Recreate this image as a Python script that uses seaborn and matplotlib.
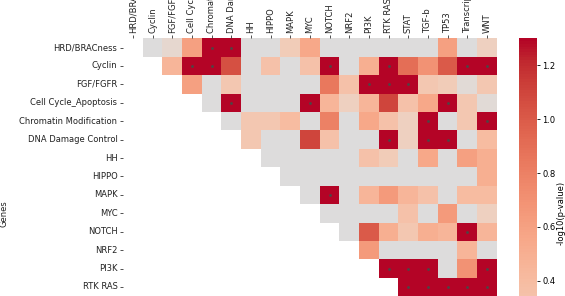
import numpy as np
import pandas as pd
import matplotlib
matplotlib.use("Agg")
import matplotlib.pyplot as plt
import seaborn as sns

nan = np.nan
genes = ["HRD/BRACness", "Cyclin", "FGF/FGFR", "Cell Cycle_Apoptosis",
         "Chromatin Modification", "DNA Damage Control", "HH", "HIPPO", "MAPK",
         "MYC", "NOTCH", "NRF2", "PI3K", "RTK RAS", "STAT", "TGF-b", "TP53",
         "Transcription Factor", "WNT"]

# -log10(p-value) per row (lower triangle and cropped rows are NaN)
hrd        = [nan, 0, 0.1, 0.6, 1.5, 1.5, 0, 0, 0.25, 0.55, 0, 0, 0, 0, 0, 0, 0.6, 0, 0.2]
cyclin     = [nan, nan, 0.45, 1.5, 1.5, 1.05, 0, 0.35, 0, 0.35, 1.5, 0, 0.5, 1.5, 0.9, 0.7, 1.0, 1.5, 1.5]
fgf        = [nan]*3 + [0.6, 0, 0.3, 0, 0, 0, 0, 0.85, 0.35, 1.5, 1.5, 1.5, 0.3, 0.25, 0.05, 0.3]
cellcycle  = [nan]*4 + [0, 1.5, 0, 0, 0, 1.5, 0.45, 0.2, 0.45, 1.1, 0.35, 0.55, 1.5, 0.3, 0.05]
chromatin  = [nan]*5 + [0, 0.3, 0.3, 0.4, 0, 0.8, 0, 0.55, 0.35, 0.2, 1.5, 0, 0.3, 1.5]
dna        = [nan]*6 + [0.3, 0, 0, 1.1, 0.35, 0, 0, 1.5, 0.2, 1.5, 1.5, 0, 0.4]
hh         = [nan]*7 + [0, 0, 0, 0, 0, 0.35, 0.25, 0, 0.55, 0, 0.6, 0.5]
hippo      = [nan]*8 + [0, 0, 0, 0, 0, 0, 0, 0, 0, 0, 0.5]
mapk       = [nan]*9 + [0, 1.5, 0, 0.45, 0.65, 0.45, 0.35, 0, 0.4, 0.4]
myc        = [nan]*10 + [0, 0, 0, 0, 0.35, 0, 0.65, 0, 0.2]
notch      = [nan]*11 + [0, 1.0, 0.5, 0.3, 0.5, 0.45, 1.5, 0.45]
nrf2       = [nan]*12 + [0.65, 0, 0, 0, 0, 0.45, 0]
pi3k       = [nan]*13 + [1.5, 1.5, 1.5, 0, 0.7, 1.5]
rtkras     = [nan]*14 + [1.5, 1.5, 1.5, 1.5, 1.5]
hidden     = [nan]*19  # rows below the visible area

rows = [hrd, cyclin, fgf, cellcycle, chromatin, dna, hh, hippo, mapk, myc,
        notch, nrf2, pi3k, rtkras, hidden, hidden, hidden, hidden, hidden]
df = pd.DataFrame(rows, index=genes, columns=genes)

sig = -np.log10(0.05)

fig = plt.figure(figsize=(5.65, 2.96), dpi=100)
W, H = 565, 296
ax = fig.add_axes([123.0 / W, 1 - (38.3 + 350) / H, 373.7 / W, 350 / H])
cax = fig.add_axes([519.3 / W, 1 - (38.3 + 350) / H, 17.4 / W, 350 / H])

sns.heatmap(df, ax=ax, cbar_ax=cax, cmap="coolwarm", center=0, vmin=0, vmax=sig,
            cbar_kws={"label": "-log10(p-value)"}, xticklabels=True, yticklabels=True)

# significance markers (p < 0.05)
ri, ci = np.where(np.nan_to_num(df.values) > sig)
ax.scatter(ci + 0.5, ri + 0.5, s=4, color="#4d4545", linewidths=0, zorder=3)

ax.xaxis.tick_top()
ax.set_xticklabels(genes, rotation=90, fontsize=6)
ax.set_yticklabels(genes, rotation=0, fontsize=6)
ax.tick_params(axis="both", length=2.5, width=0.6, pad=1.5, colors="#333333", labelcolor="#222222")
ax.set_xlabel("")
ax.set_ylabel("Genes", fontsize=6, color="#222222")
ax.yaxis.set_label_coords((8 - 123.0) / 373.7, 0.5)

cax.tick_params(labelsize=6, length=2.5, width=0.6, pad=1.5)
cax.yaxis.label.set_size(6)
cax.yaxis.labelpad = 0.5

fig.savefig("out.png", dpi=100)
